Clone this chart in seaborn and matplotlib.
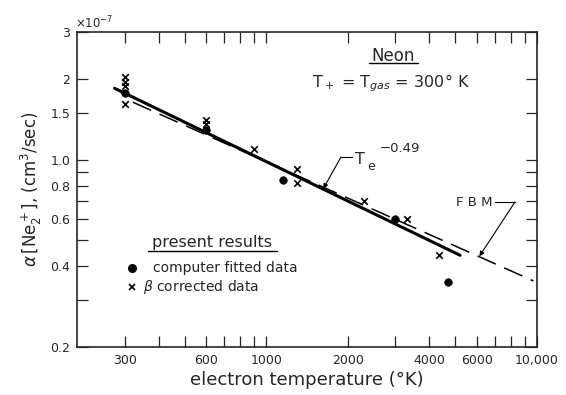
import matplotlib
matplotlib.use("Agg")
import matplotlib.pyplot as plt
import seaborn as sns

# values in units of 1e-7 cm^3/sec
fitted_T = [300, 600, 1150, 3000, 4700]
fitted_alpha = [1.78, 1.29, 0.84, 0.60, 0.35]

corrected_T = [300, 300, 300, 300, 600, 600, 900, 1300, 1300, 2300, 3300, 4350]
corrected_alpha = [2.03, 1.95, 1.88, 1.62, 1.41, 1.36, 1.10, 0.92, 0.82, 0.70, 0.60, 0.44]

# T_e^-0.49 fit, end points
fit_T = [275, 5200]
fit_alpha = [1.85, 0.44]

# FBM theory, end points
fbm_T = [322, 9700]
fbm_alpha = [1.64, 0.353]

x_major = [300, 600, 1000, 2000, 4000, 6000, 10000]
x_labels = ["300", "600", "1000", "2000", "4000", "6000", "10,000"]
x_minor = [400, 500, 700, 800, 900, 3000, 5000, 7000, 8000, 9000]
y_major = [0.2, 0.4, 0.6, 0.8, 1.0, 1.5, 2, 3]
y_labels = ["0.2", "0.4", "0.6", "0.8", "1.0", "1.5", "2", "3"]
y_minor = [0.3, 0.5, 0.7, 0.9]

sns.set_style("ticks")
plt.rcParams["font.family"] = ["DejaVu Sans"]
plt.rcParams["mathtext.fontset"] = "dejavusans"

fig = plt.figure(figsize=(5.66, 3.95), dpi=100)
ax = fig.add_axes([77 / 566, 48 / 395, 460 / 566, 315 / 395])
ax.set_xscale("log")
ax.set_yscale("log")

sns.lineplot(x=fit_T, y=fit_alpha, color="black", linewidth=2.2, ax=ax)
sns.lineplot(x=fbm_T, y=fbm_alpha, color="black", linewidth=1.1, ax=ax)
ax.lines[-1].set_dashes([13, 6])

sns.scatterplot(x=fitted_T, y=fitted_alpha, marker="o", color="black", s=30,
                edgecolor="black", ax=ax)
sns.scatterplot(x=corrected_T, y=corrected_alpha, marker="x", color="black", s=22,
                linewidth=1.2, ax=ax)

ax.set_xlim(200, 10000)
ax.set_ylim(0.2, 3)
ax.set_xticks(x_major)
ax.set_xticklabels(x_labels)
ax.set_xticks(x_minor, minor=True)
ax.set_xticklabels([], minor=True)
ax.set_yticks(y_major)
ax.set_yticklabels(y_labels)
ax.set_yticks(y_minor, minor=True)
ax.set_yticklabels([], minor=True)
ax.tick_params(which="both", direction="in", length=8, width=0.9,
               top=True, right=True, labelsize=9, pad=5)
for s in ax.spines.values():
    s.set_linewidth(1.2)

ax.set_xlabel("electron temperature (°K)", fontsize=13, labelpad=3)
ax.set_ylabel(r"$\alpha\,[\mathrm{Ne}_2^+]$, (cm$^3$/sec)", fontsize=12, labelpad=4)


def fx(px):
    return (px - 77) / 460


def fy(py):
    return (347 - py) / 315


ax.text(fx(75), fy(28), r"×10$^{-7}$", transform=ax.transAxes, fontsize=8.5,
        ha="left", va="baseline")

ax.text(fx(393), fy(56), "Neon", transform=ax.transAxes, fontsize=12,
        ha="center", va="center")
ax.plot([fx(369), fx(418)], [fy(63), fy(63)], color="black", lw=1,
        transform=ax.transAxes)
ax.text(fx(470), fy(83), r"T$_+$ = T$_{gas}$ = 300° K", transform=ax.transAxes,
        fontsize=11.5, ha="right", va="center")

# T_e^-0.49 label with leader
ax.text(fx(355), fy(160), "T", transform=ax.transAxes, fontsize=11.5,
        ha="left", va="center")
ax.text(fx(367), fy(167), "e", transform=ax.transAxes, fontsize=9,
        ha="left", va="center")
ax.text(fx(380), fy(148), "−0.49", transform=ax.transAxes, fontsize=9.5,
        ha="left", va="center")
ax.plot([fx(352), fx(341)], [fy(157), fy(157)], color="black", lw=0.8,
        transform=ax.transAxes)
ax.annotate("", xy=(1624, 0.78), xytext=(fx(341), fy(157)),
            textcoords="axes fraction",
            arrowprops=dict(arrowstyle="-|>", color="black", lw=0.8,
                            mutation_scale=7, shrinkA=0, shrinkB=0))

# FBM label with leader
ax.text(fx(474), fy(203), "F B M", transform=ax.transAxes, fontsize=9.5,
        ha="center", va="center")
ax.plot([fx(495), fx(515)], [fy(202), fy(202)], color="black", lw=0.8,
        transform=ax.transAxes)
ax.annotate("", xy=(6125, 0.436), xytext=(fx(515), fy(202)),
            textcoords="axes fraction",
            arrowprops=dict(arrowstyle="-|>", color="black", lw=0.8,
                            mutation_scale=7, shrinkA=0, shrinkB=0))

# key
ax.text(fx(212), fy(243), "present results", transform=ax.transAxes,
        fontsize=11.5, ha="center", va="center")
ax.plot([fx(148), fx(277)], [fy(251), fy(251)], color="black", lw=1,
        transform=ax.transAxes)
ax.plot([fx(132)], [fy(268)], marker="o", ms=5.5, color="black",
        transform=ax.transAxes)
ax.text(fx(153), fy(268), "computer fitted data", transform=ax.transAxes,
        fontsize=10, ha="left", va="center")
ax.plot([fx(132)], [fy(287)], marker="x", ms=4.5, mew=1.2, color="black",
        transform=ax.transAxes)
ax.text(fx(143), fy(287), r"$\beta$ corrected data", transform=ax.transAxes,
        fontsize=10, ha="left", va="center")

fig.savefig("out.png", dpi=100)
